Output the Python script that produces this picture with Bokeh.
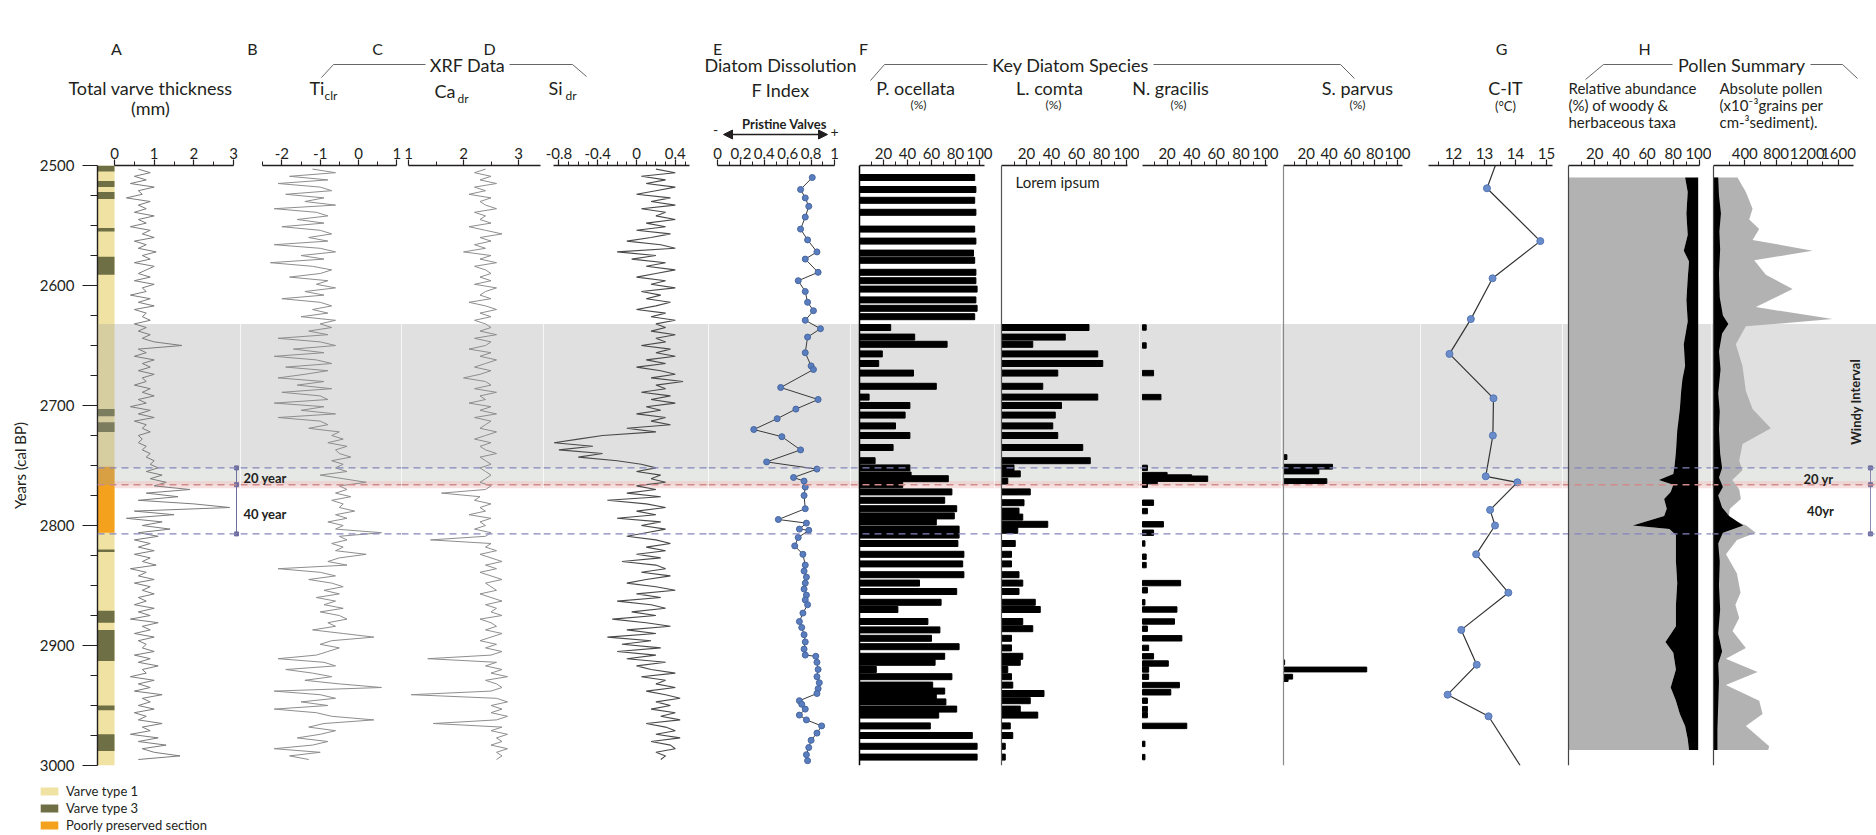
from bokeh.plotting import figure
from bokeh.layouts import row, column
from bokeh.models import (Range1d, FixedTicker, BoxAnnotation, Span, Label, Arrow,
                          NormalHead, Legend, LegendItem)
from bokeh.embed import file_html
from bokeh.resources import INLINE

FONT = "Lato"
INK = "#231f20"

# ------------------------------------------------------------------ data
year_ticks = [2500, 2600, 2700, 2800, 2900, 3000]
year_labels = ["2500", "2600", "2700", "2800", "2900", "3000"]
year_minor = [2525, 2550, 2575, 2625, 2650, 2675, 2725, 2750, 2775,
              2825, 2850, 2875, 2925, 2950, 2975]

windy = (2632, 2752)
event20 = (2752, 2766)
event40 = (2766, 2807)

# varve-type strip
strip_top = [2500, 2500, 2513, 2522, 2552, 2576, 2703, 2714, 2751, 2820, 2871, 2887, 2950, 2974]
strip_bottom = [3000, 2505, 2518, 2528, 2555, 2591, 2709, 2722, 2806, 2822, 2881, 2913, 2954, 2988]
strip_kind = ["Varve type 1", "Varve type 3", "Varve type 3", "Varve type 3", "Varve type 3",
              "Varve type 3", "Varve type 3", "Varve type 3", "Poorly preserved section",
              "Varve type 3", "Varve type 3", "Varve type 3", "Varve type 3", "Varve type 3"]
strip_names = ["Varve type 1", "Varve type 3", "Poorly preserved section"]
strip_colors = ["#efe2a2", "#6f6f45", "#f4a11d"]

# A-D: high resolution series (one value every 3 years)
xrf_years = list(range(2503, 2996, 3))
varve_mm = [
    0.6, 0.9, 0.5, 0.8, 0.4, 1.0, 0.6, 0.7, 0.3, 0.9, 0.6, 0.8, 0.5, 1.0, 0.6,
    0.8, 0.4, 0.9, 0.7, 1.0, 0.5, 0.8, 0.6, 1.05, 0.7, 0.9, 0.5, 1.0, 0.8, 0.6,
    0.9, 0.5, 1.0, 0.7, 0.8, 0.4, 0.9, 0.6, 1.0, 0.5, 0.8, 0.7, 0.9, 0.5, 0.8,
    0.6, 0.9, 0.7, 1.0, 1.7, 0.6, 0.8, 0.5, 1.0, 0.7, 0.9, 0.6, 1.0, 0.7, 0.8,
    0.5, 0.9, 0.7, 1.0, 0.6, 0.8, 0.4, 0.9, 0.6, 1.0, 0.5, 0.8, 0.7, 0.9, 0.6,
    0.7, 0.6, 0.8, 0.7, 0.9, 0.8, 1.0, 0.9, 1.1, 0.8, 1.2, 0.9, 1.3, 1.0, 1.9,
    0.8, 1.6, 0.6, 2.0, 2.9, 0.5, 1.5, 0.3, 1.2, 0.7, 1.4, 0.6, 1.1, 0.5, 0.9,
    0.6, 1.0, 0.5, 0.9, 0.7, 1.05, 0.4, 0.8, 0.6, 1.0, 0.5, 0.9, 0.7, 1.0, 0.6,
    0.8, 0.5, 1.0, 0.6, 0.9, 0.4, 1.1, 0.7, 0.9, 0.5, 1.0, 0.6, 0.8, 0.7, 1.0,
    0.5, 0.9, 0.6, 1.1, 0.7, 0.8, 0.4, 1.0, 0.6, 0.9, 0.5, 1.2, 0.7, 0.9, 0.6,
    1.0, 0.5, 0.8, 0.6, 1.2, 0.7, 0.9, 0.4, 1.1, 0.6, 1.3, 0.7, 1.0, 1.65, 0.6]
ti_clr = [
    -1.2, -0.6, -1.8, -0.8, -2.1, -1.0, -0.7, -1.9, -0.9, -1.4, -0.6, -2.2, -1.1, -0.8, -1.6,
    -0.9, -2.0, -1.0, -0.7, -1.3, -0.8, -2.2, -1.0, -0.6, -1.5, -0.9, -2.3, -1.2, -0.7, -1.0,
    -1.8, -0.8, -1.1, -0.6, -1.4, -0.9, -2.0, -1.0, -0.7, -1.2, -0.8, -1.5, -0.6, -1.0, -0.7,
    -1.3, -0.8, -2.1, -1.0, -0.6, -1.7, -0.9, -2.2, -1.1, -0.7, -1.9, -0.8, -1.4, -2.1, -0.9,
    -1.6, -0.7, -2.0, -1.0, -0.8, -2.2, -0.9, -1.5, -0.6, -2.1, -1.0, -0.8, -1.3, -0.5, -0.7,
    -0.4, -0.8, -0.3, -0.6, -0.5, -0.2, -0.7, -0.4, -0.6, -0.3, -1.0, -0.4, 0.2, -0.5, -0.3,
    -0.6, -0.2, -0.7, -0.4, -0.5, -0.1, -0.6, -0.3, -0.8, -0.4, -0.6, 0.6, -0.5, -0.3, -0.7,
    -0.4, -0.6, 0.2, -0.5, -0.8, -0.3, -2.1, -1.0, -0.6, -1.3, -0.7, -0.4, -0.9, -0.5, -1.1,
    -0.6, -0.9, -0.4, -1.0, -0.5, -0.3, -0.8, -0.6, -1.2, -0.4, 0.4, -0.7, -1.0, -0.5, -0.8,
    -1.1, -2.1, -0.9, -0.6, -1.9, -1.2, -0.7, -1.4, -0.5, 0.6, -2.2, -1.0, -0.6, -1.5, -0.8,
    -2.2, -1.1, -0.7, 0.4, -0.9, -1.3, -0.6, -1.0, -1.6, -0.8, -1.2, -2.2, -1.0, -1.8, -1.3]
ca_dr = [
    2.4, 2.2, 2.5, 2.3, 2.6, 2.2, 2.4, 2.1, 2.5, 2.3, 2.4, 2.6, 2.2, 2.4, 2.3,
    2.5, 2.1, 2.4, 2.7, 2.3, 2.5, 2.2, 2.4, 2.0, 2.5, 2.3, 2.6, 2.2, 2.4, 2.5,
    2.3, 2.5, 2.2, 2.6, 2.4, 2.3, 2.5, 2.1, 2.4, 2.6, 2.3, 2.5, 2.2, 2.4, 2.5,
    2.3, 2.6, 2.2, 2.5, 2.4, 2.1, 2.5, 2.3, 2.6, 2.4, 2.2, 2.5, 2.3, 2.0, 2.4,
    2.5, 2.2, 2.6, 2.3, 2.4, 2.1, 2.5, 2.3, 2.6, 2.2, 2.5, 2.4, 2.3, 2.6, 2.4,
    2.2, 2.5, 2.3, 2.4, 2.6, 2.3, 2.4, 2.5, 2.3, 2.4, 2.5, 2.4, 2.3, 2.5, 2.4,
    1.6, 2.3, 2.2, 2.5, 2.3, 2.4, 2.1, 2.5, 2.3, 2.4, 2.2, 2.5, 2.4, 1.4, 2.5,
    2.4, 2.6, 2.3, 2.5, 2.7, 2.4, 2.6, 2.3, 2.5, 2.7, 2.4, 2.5, 2.6, 2.3, 2.5,
    2.7, 2.4, 2.6, 2.5, 2.7, 2.3, 2.5, 2.6, 2.4, 2.7, 2.5, 2.3, 2.6, 2.4, 2.7,
    2.5, 1.35, 2.6, 2.4, 2.7, 2.5, 2.8, 2.4, 2.6, 2.7, 2.5, 1.05, 2.6, 2.8, 2.5,
    2.7, 2.5, 2.8, 2.6, 1.45, 2.7, 2.5, 2.8, 2.6, 2.7, 2.5, 2.8, 2.6, 2.7, 2.6]
si_dr = [
    0.2, 0.4, 0.05, 0.3, 0.1, 0.4, 0.2, 0.0, 0.35, 0.15, 0.4, 0.05, 0.3, 0.2, 0.4,
    0.1, 0.3, 0.0, 0.35, 0.15, -0.1, 0.25, 0.4, -0.2, 0.2, -0.05, 0.3, 0.1, 0.4, 0.2,
    0.0, 0.3, 0.15, 0.4, 0.05, 0.25, 0.1, 0.35, 0.2, 0.0, 0.3, 0.15, 0.4, 0.2, 0.3,
    0.15, 0.4, 0.2, 0.3, 0.05, 0.35, 0.2, 0.4, 0.1, 0.3, 0.0, 0.25, 0.4, 0.15, 0.48,
    0.2, 0.3, 0.05, 0.35, 0.15, 0.4, 0.1, 0.25, 0.0, 0.3, 0.15, 0.35, -0.1, 0.2, -0.35,
    -0.6, -0.85, -0.45, -0.8, -0.35, -0.6, -0.2, 0.05, 0.2, 0.0, 0.25, 0.15, 0.3, 0.0, 0.2,
    -0.1, 0.25, -0.3, 0.1, 0.3, 0.0, 0.2, -0.2, 0.25, 0.05, 0.3, 0.1, -0.1, 0.2, 0.35,
    0.1, 0.3, 0.0, 0.25, -0.15, 0.2, 0.3, 0.05, 0.35, 0.1, -0.1, 0.2, 0.4, 0.0, 0.25,
    -0.2, 0.15, 0.3, -0.05, 0.2, -0.25, 0.1, 0.35, -0.1, 0.2, -0.3, 0.15, -0.15, 0.25, -0.2,
    0.2, -0.1, 0.3, 0.0, 0.15, 0.4, 0.05, 0.3, 0.2, 0.4, 0.1, 0.3, 0.45, 0.2, 0.35,
    0.15, 0.4, 0.25, 0.45, 0.1, 0.3, 0.4, 0.2, 0.45, 0.15, 0.35, 0.4, 0.2, 0.3, 0.25]

# E: diatom dissolution F index
findex_years = [2510, 2520, 2527, 2534, 2543, 2553, 2562, 2572, 2578, 2589, 2596, 2605, 2614,
                2621, 2629, 2636, 2643, 2656, 2667, 2670, 2685, 2695, 2703, 2711, 2720, 2726,
                2737, 2747, 2753, 2760, 2763, 2768, 2775, 2786, 2795, 2798, 2803, 2804, 2810,
                2817, 2824, 2833, 2838, 2843, 2848, 2853, 2858, 2862, 2866, 2873, 2880, 2885,
                2891, 2897, 2903, 2908, 2909, 2914, 2920, 2926, 2931, 2936, 2940, 2946, 2949,
                2953, 2958, 2962, 2967, 2973, 2979, 2985, 2991, 2996]
findex_vals = [0.81, 0.71, 0.75, 0.78, 0.75, 0.71, 0.77, 0.85, 0.75, 0.86, 0.69, 0.75, 0.77,
               0.82, 0.75, 0.88, 0.77, 0.75, 0.80, 0.82, 0.54, 0.86, 0.67, 0.51, 0.31, 0.55,
               0.71, 0.42, 0.85, 0.65, 0.74, 0.75, 0.74, 0.75, 0.52, 0.76, 0.70, 0.78, 0.69,
               0.66, 0.73, 0.75, 0.74, 0.76, 0.75, 0.74, 0.76, 0.75, 0.77, 0.73, 0.70, 0.72,
               0.74, 0.75, 0.74, 0.75, 0.84, 0.85, 0.86, 0.85, 0.87, 0.86, 0.85, 0.70, 0.72,
               0.75, 0.70, 0.76, 0.89, 0.85, 0.80, 0.78, 0.76, 0.77]

# F: key diatom species (%)
poc_years = [2510, 2520, 2529, 2539, 2553, 2563, 2573, 2579, 2589, 2596, 2603, 2612, 2619, 2626,
             2635, 2643, 2649, 2657, 2665, 2673, 2684, 2693, 2700, 2708, 2717, 2725, 2735, 2746,
             2752, 2758, 2761, 2766, 2772, 2779, 2786, 2792, 2797, 2803, 2808, 2815, 2824, 2832,
             2841, 2848, 2855, 2864, 2870, 2880, 2887, 2894, 2901, 2909, 2914, 2920, 2926, 2933,
             2938, 2943, 2947, 2953, 2958, 2967, 2975, 2984, 2993]
poc_vals = [96, 97, 96, 97, 96, 97, 95, 96, 97, 97, 98, 97, 98, 96,
            26, 46, 73, 19, 16, 45, 64, 8, 42, 38, 30, 42, 28, 13,
            42, 43, 74, 36, 77, 71, 81, 79, 64, 83, 83, 82, 87, 86,
            87, 50, 81, 68, 32, 57, 67, 60, 83, 71, 63, 14, 77, 61,
            71, 64, 72, 81, 66, 59, 94, 98, 98]
lcomta_years = [2635, 2643, 2649, 2657, 2665, 2673, 2684, 2693, 2700, 2708, 2717, 2725, 2735,
                2746, 2752, 2757, 2763, 2772, 2781, 2788, 2793, 2799, 2804, 2815, 2824, 2832,
                2841, 2848, 2855, 2864, 2870, 2880, 2886, 2894, 2902, 2909, 2914, 2920, 2926,
                2933, 2940, 2946, 2953, 2958, 2967, 2975, 2984, 2993]
lcomta_vals = [70, 51, 25, 77, 81, 45, 33, 77, 48, 43, 41, 45, 65,
               71, 10, 15, 5, 23, 18, 14, 17, 37, 13, 11, 8, 8,
               14, 17, 14, 27, 31, 17, 25, 8, 8, 17, 15, 5, 8,
               9, 34, 23, 15, 29, 7, 9, 3, 3]
ngrac_years = [2635, 2650, 2673, 2693, 2752, 2758, 2760, 2761, 2763, 2766, 2781, 2788, 2799,
               2806, 2815, 2826, 2833, 2848, 2854, 2864, 2870, 2880, 2886, 2894, 2902, 2909,
               2915, 2920, 2926, 2933, 2939, 2946, 2953, 2958, 2967, 2982, 2993]
ngrac_vals = [3, 3, 9, 15, 4, 20, 40, 53, 12, 4, 9, 4, 17,
              9, 2, 3, 3, 31, 4, 2, 28, 26, 4, 32, 5, 9,
              21, 5, 5, 30, 23, 4, 4, 4, 36, 2, 2]
sparv_years = [2743, 2751, 2755, 2763, 2914, 2920, 2926, 2928]
sparv_vals = [3, 43, 31, 38, 1, 73, 8, 4]

# G: chironomid-inferred temperature
cit_years = [2500, 2519, 2563, 2594, 2628, 2657, 2694, 2725, 2759, 2764, 2787, 2800, 2824,
             2856, 2887, 2916, 2941, 2959, 3000]
cit_vals = [13.35, 13.08, 14.8, 13.26, 12.56, 11.87, 13.29, 13.27, 13.04, 14.06, 13.18, 13.34,
            12.73, 13.77, 12.25, 12.75, 11.81, 13.13, 14.15]

# H: pollen summary
hrel_years = [2510, 2522, 2540, 2558, 2571, 2580, 2594, 2612, 2630, 2649,
              2667, 2678, 2688, 2703, 2721, 2739, 2750, 2757, 2762, 2766,
              2772, 2778, 2786, 2792, 2800, 2803, 2808, 2830, 2848, 2866,
              2884, 2897, 2906, 2920, 2935, 2946, 2957, 2967, 2978, 2987]
hrel_woody = [89, 91, 90, 91, 88, 92, 91, 90, 91, 88,
              89, 87, 86, 85, 83, 82, 81, 80, 69, 80,
              78, 73, 75, 73, 49, 77, 82, 82, 83, 82,
              82, 74, 80, 82, 78, 82, 85, 89, 91, 92]
hrel_total = 99
habs_years = [2510, 2522, 2536, 2545, 2553, 2562, 2571, 2579, 2591, 2603,
              2618, 2628, 2634, 2649, 2667, 2688, 2703, 2719, 2732, 2746,
              2754, 2762, 2770, 2778, 2786, 2794, 2800, 2806, 2812, 2824,
              2840, 2856, 2866, 2877, 2888, 2902, 2911, 2922, 2933, 2946,
              2957, 2967, 2984, 2987]
habs_total = [307, 414, 500, 457, 585, 500, 1268, 521, 670, 1012,
              542, 1524, 414, 286, 371, 414, 500, 734, 371, 329,
              370, 240, 330, 350, 210, 190, 420, 540, 300, 160,
              300, 346, 280, 329, 243, 414, 158, 564, 158, 585,
              628, 414, 713, 700]
habs_herb_years = [2510, 2525, 2540, 2555, 2570, 2590, 2610, 2625, 2632, 2640,
                   2655, 2670, 2690, 2705, 2720, 2740, 2752, 2760, 2768, 2775,
                   2785, 2792, 2800, 2806, 2815, 2830, 2850, 2870, 2890, 2905,
                   2915, 2930, 2950, 2970, 2987]
habs_herb = [60, 70, 95, 75, 85, 70, 80, 120, 190, 110,
             70, 90, 60, 80, 70, 85, 110, 70, 120, 60,
             110, 200, 380, 120, 60, 80, 70, 85, 60, 110,
             60, 70, 60, 50, 50]

# axis tick values / labels
a_ticks, a_labels, a_minor = [0, 1, 2, 3], ["0", "1", "2", "3"], [0.5, 1.5, 2.5]
b_ticks, b_labels, b_minor = [-2, -1, 0, 1], ["-2", "-1", "0", "1"], [-2.5, -1.5, -0.5, 0.5]
c_ticks, c_labels, c_minor = [1, 2, 3], ["1", "2", "3"], [1.5, 2.5]
d_ticks, d_labels = [-0.8, -0.4, 0, 0.4], ["-0.8", "-0.4", "0", "0.4"]
d_minor = [-0.7, -0.6, -0.5, -0.3, -0.2, -0.1, 0.1, 0.2, 0.3, 0.5]
e_ticks, e_labels = [0, 0.2, 0.4, 0.6, 0.8, 1], ["0", "0.2", "0.4", "0.6", "0.8", "1"]
e_minor = [0.1, 0.3, 0.5, 0.7, 0.9]
pct_ticks, pct_labels = [20, 40, 60, 80, 100], ["20", "40", "60", "80", "100"]
pct_minor = [10, 30, 50, 70, 90]
g_ticks, g_labels, g_minor = [12, 13, 14, 15], ["12", "13", "14", "15"], [11.5, 12.5, 13.5, 14.5]
habs_ticks, habs_labels = [400, 800, 1200, 1600], ["400", "800", "1200", "1600"]
habs_minor = [200, 600, 1000, 1400]

# ------------------------------------------------------------------ layout
W, H = 1876, 835
HEADER_H, TOP, BOT = 140, 25, 10
PANEL_H = TOP + 600 + BOT
FOOT_H = H - HEADER_H - PANEL_H
EDGES = [97, 240, 401, 543, 708, 850, 994, 1139, 1281, 1420, 1562, 1711, 1876]
SCALES = [(0, 114, 39.7), (0, 358, 38.3), (1, 408, 55.0), (0, 636, 97.0), (0, 717, 117.0),
          (0, 859, 1.2), (0, 1001, 1.25), (0, 1142, 1.23), (0, 1283, 1.14), (12, 1453, 31.0),
          (0, 1568, 1.31), (0, 1713, 0.078125)]


def px2val(i, px):
    v0, p0, k = SCALES[i]
    return v0 + (px - p0) / k


def make_panel(i, bounds, ticks, labels, minor):
    left, right = EDGES[i], EDGES[i + 1]
    first = i == 0
    p = figure(width=right if first else right - left, height=PANEL_H,
               x_range=Range1d(px2val(i, left), px2val(i, right)),
               y_range=Range1d(3000, 2500),
               x_axis_location="above", y_axis_location="left" if first else None,
               toolbar_location=None, output_backend="svg",
               min_border_left=left if first else 0, min_border_right=0,
               min_border_top=TOP, min_border_bottom=BOT)
    p.grid.visible = False
    p.outline_line_color = None
    p.background_fill_color = "white"
    p.border_fill_color = "white"
    ax = p.xaxis[0]
    ax.bounds = bounds
    ax.ticker = FixedTicker(ticks=ticks, minor_ticks=minor)
    ax.major_label_overrides = dict(zip(ticks, labels))
    ax.axis_line_color = INK
    ax.axis_line_width = 1.4
    ax.major_tick_line_color = INK
    ax.major_tick_line_width = 1.2
    ax.minor_tick_line_color = INK
    ax.major_tick_in, ax.major_tick_out = 0, 6
    ax.minor_tick_in, ax.minor_tick_out = 0, 4
    ax.major_label_standoff = 1
    ax.major_label_text_font = FONT
    ax.major_label_text_font_size = "15px"
    ax.major_label_text_color = INK
    # windy interval and event markers
    p.add_layout(BoxAnnotation(top=windy[0], bottom=windy[1], fill_color="#b4b4b4",
                               fill_alpha=0.42, line_color=None, level="underlay"))
    p.add_layout(BoxAnnotation(top=event20[0], bottom=event20[1], fill_color="#c2c9c2",
                               fill_alpha=0.42, line_color=None, level="underlay"))
    p.add_layout(BoxAnnotation(top=event20[1] - 3, bottom=event20[1] + 3, fill_color="#f0c6c6",
                               fill_alpha=0.55, line_color=None, level="underlay"))
    for yv, col in ((event20[0], "#8586bd"), (event20[1], "#d08a8a"), (event40[1], "#8586bd")):
        p.add_layout(Span(location=yv, dimension="width", line_color=col,
                          line_dash="7 5", line_width=1.4))
    return p


def label(p, text, x, y, size=15, align="center", style="normal", color=INK, angle=0.0):
    p.add_layout(Label(x=x, y=y, text=text, text_font=FONT, text_font_size=f"{size}px",
                       text_align=align, text_baseline="middle", text_font_style=style,
                       text_color=color, angle=angle))


panels = []

# A ---------------------------------------------------------------
pA = make_panel(0, (0, 3), a_ticks, a_labels, a_minor)
ya = pA.yaxis[0]
ya.ticker = FixedTicker(ticks=year_ticks, minor_ticks=year_minor)
ya.major_label_overrides = dict(zip(year_ticks, year_labels))
ya.axis_label = "Years (cal BP)"
ya.axis_label_text_font = FONT
ya.axis_label_text_font_size = "15px"
ya.axis_label_text_font_style = "normal"
ya.axis_label_text_color = INK
ya.axis_label_standoff = 8
ya.axis_line_color = INK
ya.axis_line_width = 1.4
ya.major_tick_line_color = INK
ya.minor_tick_line_color = INK
ya.major_tick_in, ya.major_tick_out = 0, 15
ya.minor_tick_in, ya.minor_tick_out = 0, 7
ya.major_label_standoff = 8
ya.major_label_text_font = FONT
ya.major_label_text_font_size = "15px"
ya.major_label_text_color = INK
color_of = dict(zip(strip_names, strip_colors))
x_left = px2val(0, EDGES[0])
pA.quad(left=x_left, right=0, top=strip_top, bottom=strip_bottom,
        fill_color=[color_of[k] for k in strip_kind], line_color=None)
pA.add_layout(BoxAnnotation(left=x_left, right=0, top=windy[0], bottom=event20[1],
                            fill_color="#9a9a9a", fill_alpha=0.3, line_color=None))
pA.line(varve_mm, xrf_years, line_color="#7c7c7c", line_width=1)
bx = px2val(0, 236)
pA.line([bx, bx], [event20[0], event40[1]], line_color="#6f6f9f", line_width=1)
pA.scatter([bx, bx, bx], [event20[0], event20[1], event40[1]], marker="square",
           size=4, color="#6f6f9f")
panels.append(pA)

# B ---------------------------------------------------------------
pB = make_panel(1, (-2.5, 1), b_ticks, b_labels, b_minor)
pB.line(ti_clr, xrf_years, line_color="#8e8e8e", line_width=1)
label(pB, "20 year", px2val(1, 243), 2760, size=13, align="left", style="bold")
label(pB, "40 year", px2val(1, 243), 2790, size=13, align="left", style="bold")
panels.append(pB)

# C ---------------------------------------------------------------
pC = make_panel(2, (1, 3.4), c_ticks, c_labels, c_minor)
pC.line(ca_dr, xrf_years, line_color="#8e8e8e", line_width=1)
panels.append(pC)

# D ---------------------------------------------------------------
pD = make_panel(3, (-0.86, 0.55), d_ticks, d_labels, d_minor)
pD.line(si_dr, xrf_years, line_color="#4a4a4a", line_width=1.1)
panels.append(pD)

# E ---------------------------------------------------------------
pE = make_panel(4, (0, 1), e_ticks, e_labels, e_minor)
pE.line(findex_vals, findex_years, line_color="#3a3a3a", line_width=1)
pE.scatter(findex_vals, findex_years, size=6, fill_color="#5a7dbf", line_color="#46679f")
panels.append(pE)

# F species ---------------------------------------------------------
pF = make_panel(5, (0, 104), pct_ticks, pct_labels, pct_minor)
pF.add_layout(Span(location=0, dimension="height", line_color="black", line_width=1.5))
pF.hbar(y=poc_years, left=0, right=poc_vals, height=5, color="black")
panels.append(pF)

pL = make_panel(6, (0, 101), pct_ticks, pct_labels, pct_minor)
pL.add_layout(Span(location=0, dimension="height", line_color="#555555", line_width=1.2))
pL.hbar(y=lcomta_years, left=0, right=lcomta_vals, height=5, color="black")
label(pL, "Lorem ipsum", px2val(6, 1015), 2514, size=15, align="left")
panels.append(pL)

pN = make_panel(7, (0, 102), pct_ticks, pct_labels, pct_minor)
pN.hbar(y=ngrac_years, left=0, right=ngrac_vals, height=4.5, color="black")
panels.append(pN)

pS = make_panel(8, (0, 104), pct_ticks, pct_labels, pct_minor)
pS.add_layout(Span(location=0, dimension="height", line_color="#8a8a8a", line_width=1.2))
pS.hbar(y=sparv_years, left=0, right=sparv_vals, height=4, color="black")
panels.append(pS)

# G ---------------------------------------------------------------
pG = make_panel(9, (11.2, 15.2), g_ticks, g_labels, g_minor)
pG.line(cit_vals, cit_years, line_color="#333333", line_width=1.2)
pG.scatter(cit_vals[1:-1], cit_years[1:-1], size=7, fill_color="#6b8ccb", line_color="#5577b5")
panels.append(pG)

# H relative ---------------------------------------------------------
pHr = make_panel(10, (0, 100), pct_ticks, pct_labels, pct_minor)
pHr.harea(x1=0, x2=hrel_woody, y=hrel_years, fill_color="#b2b2b2")
pHr.harea(x1=hrel_woody, x2=hrel_total, y=hrel_years, fill_color="black")
pHr.add_layout(Span(location=0, dimension="height", line_color="#444444", line_width=1.2))
panels.append(pHr)

# H absolute ---------------------------------------------------------
pHa = make_panel(11, (0, 1790), habs_ticks, habs_labels, habs_minor)
pHa.harea(x1=0, x2=habs_total, y=habs_years, fill_color="#b2b2b2")
pHa.harea(x1=0, x2=habs_herb, y=habs_herb_years, fill_color="black")
pHa.add_layout(Span(location=0, dimension="height", line_color="#444444", line_width=1.2))
rx = px2val(11, 1870)
pHa.line([rx, rx], [event20[0], event40[1]], line_color="#8a8ab0", line_width=1)
pHa.scatter([rx, rx, rx], [event20[0], event20[1], event40[1]], marker="square",
            size=4, color="#6f6f9f")
label(pHa, "20 yr", px2val(11, 1818), 2761, size=13, style="bold")
label(pHa, "40yr", px2val(11, 1820), 2788, size=13, style="bold")
label(pHa, "Windy Interval", px2val(11, 1855), 2697, size=13, style="bold", angle=1.5708)
panels.append(pHa)

# ------------------------------------------------------------------ header
hdr = figure(width=W, height=HEADER_H, x_range=Range1d(0, W), y_range=Range1d(HEADER_H, 0),
             x_axis_location=None, y_axis_location=None, toolbar_location=None,
             output_backend="svg", min_border=0)
hdr.grid.visible = False
hdr.outline_line_color = None

HEADER_TEXT = [
    ("A", 116, 48, 16, "center"), ("B", 252, 48, 16, "center"), ("C", 377, 48, 16, "center"),
    ("D", 489, 48, 16, "center"), ("E", 717, 48, 16, "center"), ("F", 863, 48, 16, "center"),
    ("G", 1501, 48, 16, "center"), ("H", 1644, 48, 16, "center"),
    ("Total varve thickness", 150, 87, 18, "center"), ("(mm)", 150, 107, 18, "center"),
    ("XRF Data", 467, 64, 18, "center"),
    ("Ti", 309, 87, 18, "left"), ("clr", 324, 95, 12, "left"),
    ("Ca", 434, 90, 18, "left"), ("dr", 457, 98, 12, "left"),
    ("Si", 548, 87, 18, "left"), ("dr", 565, 95, 12, "left"),
    ("Diatom Dissolution", 780, 64, 18, "center"), ("F Index", 780, 89, 18, "center"),
    ("Key Diatom Species", 1070, 64, 18, "center"),
    ("P. ocellata", 915, 87, 18, "center"), ("(%)", 918, 104, 12, "center"),
    ("L. comta", 1049, 87, 18, "center"), ("(%)", 1053, 104, 12, "center"),
    ("N. gracilis", 1170, 87, 18, "center"), ("(%)", 1178, 104, 12, "center"),
    ("S. parvus", 1357, 87, 18, "center"), ("(%)", 1357, 104, 12, "center"),
    ("C-IT", 1505, 87, 18, "center"), ("(\u00b0C)", 1505, 105, 13, "center"),
    ("Pollen Summary", 1741, 64, 18, "center"),
    ("Relative abundance", 1568, 87, 15, "left"), ("(%) of woody &", 1568, 104, 15, "left"),
    ("herbaceous taxa", 1568, 121, 15, "left"),
    ("Absolute pollen", 1719, 87, 15, "left"),
    ("(x10\u207b\u00b3grains per", 1719, 104, 15, "left"),
    ("cm-\u00b3sediment).", 1719, 121, 15, "left"),
    ("-", 715, 129, 14, "center"), ("+", 834, 131, 14, "center"),
]
for t, x, y, s, a in HEADER_TEXT:
    label(hdr, t, x, y, size=s, align=a)
label(hdr, "Pristine Valves", 784, 123, size=13, style="bold")

BRACKETS = [
    ([321, 333, 425], [77, 64, 64]), ([509, 572, 586], [64, 64, 76]),
    ([870, 884, 987], [80, 64, 64]), ([1153, 1340, 1354], [64, 64, 78]),
    ([1585, 1603, 1672], [79, 64, 64]), ([1810, 1842, 1857], [64, 64, 78]),
]
for xs, ys in BRACKETS:
    hdr.line(xs, ys, line_color="#666666", line_width=1)
hdr.add_layout(Arrow(x_start=723, y_start=134, x_end=827, y_end=134, line_width=1.5,
                     line_color=INK,
                     start=NormalHead(size=9, fill_color=INK, line_color=INK),
                     end=NormalHead(size=9, fill_color=INK, line_color=INK)))

# ------------------------------------------------------------------ footer legend
foot = figure(width=W, height=FOOT_H, x_range=Range1d(0, W), y_range=Range1d(0, FOOT_H),
              x_axis_location=None, y_axis_location=None, toolbar_location=None,
              output_backend="svg", min_border=0)
foot.grid.visible = False
foot.outline_line_color = None
items = []
for name, col in zip(strip_names, strip_colors):
    # legend-only renderer, its single box lies outside the visible range
    r = foot.quad(left=[W + 50], right=[W + 60], top=[10], bottom=[0],
                  fill_color=col, line_color=None)
    items.append(LegendItem(label=name, renderers=[r]))
leg = Legend(items=items, location=(38, 2), orientation="vertical",
             glyph_width=22, glyph_height=10, label_height=16, spacing=1, padding=0,
             margin=0, label_standoff=6, border_line_color=None, background_fill_alpha=0,
             label_text_font=FONT, label_text_font_size="13px", label_text_color=INK)
foot.add_layout(leg, "center")

layout = column(hdr, row(*panels, spacing=0), foot, spacing=0)
open("out.html", "w").write(file_html(layout, INLINE))
